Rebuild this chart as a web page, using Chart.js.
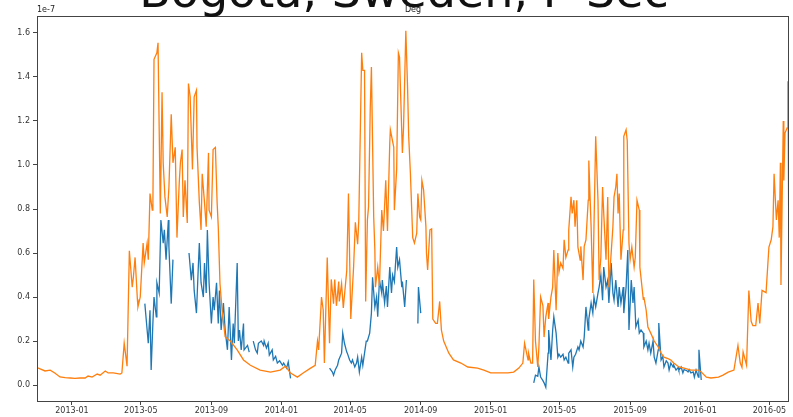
<!DOCTYPE html>
<html>
<head>
<meta charset="utf-8">
<script src="https://cdn.jsdelivr.net/npm/chart.js@4"></script>
<style>
  html, body { margin: 0; padding: 0; background: #fff; }
  canvas { display: block; }
</style>
</head>
<body>
<canvas id="chart" width="793" height="417"></canvas>
<script>
// dates are days counted from 2013-01-01, values in units of 1e-7
const suptitle = 'Bogota, Sweden, P-Sec';
const title = 'Deg';
const offsetLabel = '1e-7';

const tickMonths = ['2013-01', '2013-05', '2013-09', '2014-01', '2014-05', '2014-09',
  '2015-01', '2015-05', '2015-09', '2016-01', '2016-05'];
const yTicks = [0.0, 0.2, 0.4, 0.6, 0.8, 1.0, 1.2, 1.4, 1.6];

const orangeDays = [-61, -47, -38, -30, -21, -12, -3, 5, 14, 23, 28, 35, 44, 49, 58, 63, 72, 84, 87, 91, 96,
  100, 105, 107, 110, 114, 115, 119, 124, 126, 131, 133, 136, 140, 141, 143, 148, 150, 154, 157, 159,
  162, 166, 169, 173, 176, 180, 183, 187, 189, 192, 194, 197, 201, 203, 206, 210, 213, 217, 218, 222,
  225, 227, 231, 234, 238, 239, 243, 246, 250, 253, 255, 258, 262, 267, 276, 288, 299, 311, 328, 346,
  363, 372, 381, 393, 403, 416, 424, 428, 430, 435, 438, 440, 445, 449, 452, 456, 458, 461, 465, 466,
  470, 473, 479, 482, 486, 491, 494, 498, 500, 505, 507, 510, 512, 515, 517, 520, 522, 526, 528, 529,
  533, 536, 540, 543, 547, 550, 554, 555, 561, 562, 566, 569, 571, 576, 578, 582, 585, 587, 590, 594,
  597, 601, 603, 606, 608, 610, 613, 617, 618, 620, 624, 627, 629, 634, 637, 641, 644, 648, 657, 665,
  678, 690, 707, 718, 730, 748, 760, 770, 779, 786, 789, 795, 796, 800, 803, 805, 808, 812, 814, 817,
  821, 823, 826, 830, 831, 835, 838, 840, 844, 847, 849, 852, 856, 858, 861, 865, 866, 870, 872, 875,
  877, 880, 882, 886, 887, 891, 893, 896, 900, 901, 905, 908, 910, 913, 917, 919, 922, 925, 927, 931,
  934, 936, 940, 943, 945, 948, 950, 952, 954, 957, 961, 962, 966, 968, 971, 973, 976, 980, 982, 985,
  989, 990, 996, 997, 1001, 1004, 1009, 1015, 1022, 1027, 1032, 1039, 1044, 1049, 1058, 1067, 1079,
  1092, 1097, 1106, 1114, 1127, 1135, 1144, 1154, 1161, 1165, 1168, 1170, 1176, 1180, 1184, 1187, 1192,
  1196, 1199, 1203, 1210, 1215, 1219, 1222, 1224, 1228, 1231, 1233, 1235, 1236, 1240, 1241, 1243, 1247,
  1248, 1250];
const orangeVals = [0.079, 0.064, 0.068, 0.055, 0.037, 0.034, 0.032, 0.030, 0.032, 0.032, 0.041, 0.036,
  0.050, 0.045, 0.064, 0.055, 0.055, 0.050, 0.055, 0.190, 0.086,
  0.610, 0.445, 0.490, 0.580, 0.390, 0.355, 0.400, 0.645, 0.555, 0.645, 0.570, 0.870, 0.795, 0.800,
  1.480, 1.510, 1.555, 0.780, 1.330, 1.010,
  0.855, 0.764, 0.900, 1.230, 1.010, 1.080, 0.670, 0.920, 1.010, 1.070, 0.764, 0.930, 0.736, 1.370,
  1.310, 0.980, 1.310, 1.340, 1.080, 0.830,
  0.705, 0.960, 0.830, 0.720, 1.055, 0.795, 0.764, 1.070, 1.080, 0.830, 0.720, 0.460, 0.330, 0.220,
  0.200, 0.160, 0.114, 0.090, 0.068, 0.059,
  0.068, 0.086, 0.055, 0.036, 0.055, 0.077, 0.090, 0.200, 0.160, 0.400, 0.340, 0.100, 0.580, 0.190,
  0.480, 0.370, 0.480, 0.360, 0.470, 0.380,
  0.460, 0.350, 0.520, 0.870, 0.300, 0.540, 0.740, 0.640, 0.750, 1.510, 1.430, 1.430, 0.380, 0.750,
  0.810, 1.260, 1.445, 0.764, 0.614, 0.445,
  0.536, 0.450, 0.795, 0.700, 0.930, 0.700, 1.100, 1.160, 1.080, 0.795, 0.980, 1.510, 1.490, 1.055,
  1.170, 1.610, 1.355, 1.130, 0.960, 0.670,
  0.645, 0.690, 0.870, 0.764, 0.750, 0.930, 0.886, 0.720, 0.600, 0.523, 0.705, 0.710, 0.300, 0.280,
  0.280, 0.380, 0.250, 0.200, 0.145, 0.114,
  0.100, 0.082, 0.077, 0.068, 0.055, 0.055, 0.055, 0.059, 0.077, 0.100, 0.190, 0.114, 0.145, 0.100,
  0.100, 0.480, 0.200, 0.082, 0.173, 0.400,
  0.360, 0.218, 0.310, 0.373, 0.300, 0.400, 0.445, 0.614, 0.340, 0.600, 0.514, 0.555, 0.530, 0.660,
  0.580, 0.614, 0.705, 0.855, 0.780, 0.840,
  0.720, 0.840, 0.627, 0.568, 0.630, 0.477, 0.630, 0.660, 0.840, 1.020, 0.720, 0.418, 0.720, 1.130,
  0.840, 0.477, 0.580, 0.900, 0.782, 0.570,
  0.855, 0.445, 0.600, 0.720, 0.855, 0.900, 0.960, 0.780, 0.870, 0.570, 0.705, 1.130, 1.160, 1.110,
  0.645, 0.570, 0.627, 0.536, 0.580, 0.840,
  0.795, 0.536, 0.390, 0.400, 0.340, 0.264, 0.236, 0.200, 0.173, 0.145, 0.127, 0.120, 0.114, 0.100,
  0.082, 0.077, 0.068,
  0.068, 0.059, 0.036, 0.032, 0.036, 0.045, 0.059, 0.068, 0.180, 0.100, 0.080, 0.150, 0.090, 0.430,
  0.290, 0.270, 0.270,
  0.373, 0.280, 0.430, 0.420, 0.627, 0.660, 0.720, 0.960, 0.750, 0.840, 0.670, 1.010, 0.455, 1.200,
  0.930, 1.145, 1.170,
  1.380, 0.536];

// null marks a break in the blue record
const blueDays = [127, 131, 133, 136, 138, 141, 143, 147, 148, 152, 155, 159, 161, 164, 168, 169, 173, 176,
  190,
  204, 208, 211, 213, 217, 220, 222, 225, 229, 231, 234, 236, 239, 243, 246, 248, 252, 255, 257, 260,
  264, 267, 271, 274, 278, 281, 283, 288, 290, 292, 295, 299, 300, 306, 309,
  312,
  316, 320, 323, 325, 330, 334, 335, 339, 342, 344, 349, 351, 355, 358, 362, 367, 369, 374, 377, 381,
  415,
  449, 454, 456, 459, 463, 465, 470, 472, 475, 479, 480, 484, 487, 489, 493, 496, 498, 501, 505, 507,
  510, 513, 515, 519, 522, 524, 528, 531, 533, 536, 540, 541, 545, 548, 550, 554, 557, 559, 562, 566,
  568, 571, 575, 576, 580, 583,
  593,
  603, 604, 608,
  700,
  805, 808, 812, 814, 817, 821, 823, 826, 830, 831, 835, 838, 840, 844, 847, 849, 852, 856, 858, 861,
  865, 866, 870, 873, 875, 878, 882, 884, 887, 891, 893, 896, 900, 901, 905, 908, 910, 913, 917, 919,
  922, 925, 927, 931, 934, 936, 940, 943, 945, 948, 952, 954, 957, 961, 962, 966, 969, 971, 975, 978,
  980, 983, 987, 989, 992, 996, 997, 1001, 1004, 1006, 1009, 1013, 1015, 1018, 1022, 1023, 1027, 1030,
  1032, 1036, 1039, 1041, 1044, 1048, 1049, 1053, 1057, 1058, 1062, 1065, 1067, 1072, 1074, 1076, 1079,
  1083, 1085, 1088, 1092, 1093, 1097];
const blueVals = [0.370, 0.250, 0.190, 0.340, 0.068, 0.280, 0.400, 0.310, 0.465, 0.418, 0.750, 0.645,
  0.705, 0.570, 0.750, 0.627, 0.370, 0.570,
  null,
  0.600, 0.477, 0.555, 0.430, 0.327, 0.523, 0.645, 0.465, 0.400, 0.555, 0.418, 0.705, 0.465, 0.280,
  0.400, 0.340, 0.465, 0.280, 0.430, 0.250,
  0.373, 0.250, 0.160, 0.355, 0.114, 0.280, 0.190, 0.555, 0.200, 0.250, 0.160, 0.280, 0.160, 0.180,
  0.150,
  null,
  0.200, 0.160, 0.145, 0.190, 0.200, 0.180, 0.200, 0.168, 0.190, 0.136, 0.160, 0.114, 0.130, 0.100,
  0.110, 0.090, 0.100, 0.077, 0.105, 0.030,
  null,
  0.077, 0.059, 0.045, 0.070, 0.090, 0.114, 0.145, 0.236, 0.190, 0.150, 0.145, 0.114, 0.100, 0.114,
  0.082, 0.100, 0.127, 0.059, 0.127, 0.090,
  0.145, 0.200, 0.200, 0.236, 0.327, 0.490, 0.355, 0.400, 0.310, 0.477, 0.418, 0.477, 0.373, 0.450,
  0.355, 0.536, 0.418, 0.500, 0.470, 0.627,
  0.536, 0.570, 0.445, 0.470, 0.355, 0.477,
  null,
  0.280, 0.445, 0.327,
  null,
  0.010, 0.045, 0.040, 0.082, 0.036, 0.020, 0.010, -0.010, 0.145, 0.250, 0.114, 0.250, 0.310, 0.236,
  0.127, 0.140, 0.127, 0.140, 0.114, 0.127,
  0.100, 0.145, 0.160, 0.082, 0.127, 0.140, 0.173, 0.160, 0.200, 0.173, 0.218, 0.355, 0.250, 0.300,
  0.373, 0.327, 0.400, 0.355, 0.418, 0.445,
  0.500, 0.386, 0.536, 0.445, 0.477, 0.373, 0.555, 0.418, 0.386, 0.477, 0.355, 0.445, 0.373, 0.445,
  0.327, 0.445, 0.614, 0.250, 0.477, 0.373,
  0.445, 0.264, 0.295, 0.236, 0.250, 0.236, 0.173, 0.200, 0.160, 0.190, 0.145, 0.200, 0.127, 0.100,
  0.160, 0.282, 0.114, 0.130,
  0.082, 0.110, 0.100, 0.068, 0.100, 0.082, 0.090, 0.068, 0.080, 0.068, 0.082, 0.055, 0.070, 0.065,
  0.060, 0.070, 0.055,
  0.060, 0.036, 0.068, 0.036, 0.160, 0.023];

const dayOf = (ym) => {
  const [y, m] = ym.split('-').map(Number);
  return (Date.UTC(y, m - 1, 1) - Date.UTC(2013, 0, 1)) / 86400000;
};
const tickDays = tickMonths.map(dayOf);

const toPoints = (days, vals) => days.map((d, i) => ({ x: d, y: vals[i] }));

Chart.defaults.font.family = '"DejaVu Sans", sans-serif';
Chart.defaults.font.size = 8;
Chart.defaults.color = '#333';

// frame round the plot plus the texts at the top
const decorations = {
  id: 'decorations',
  afterDraw(chart) {
    const { ctx, chartArea: a } = chart;
    ctx.save();
    ctx.strokeStyle = '#444';
    ctx.lineWidth = 1;
    ctx.strokeRect(a.left + 0.5, a.top + 0.5, a.right - a.left - 1, a.bottom - a.top - 1);
    ctx.fillStyle = '#111';
    ctx.textBaseline = 'alphabetic';
    ctx.textAlign = 'center';
    ctx.font = '46px "DejaVu Sans", sans-serif';
    ctx.fillText(suptitle, 404, 7);
    ctx.fillStyle = '#222';
    ctx.font = '8px "DejaVu Sans", sans-serif';
    ctx.fillText(title, (a.left + a.right) / 2, 12);
    ctx.textAlign = 'left';
    ctx.fillText(offsetLabel, a.left, 12);
    ctx.restore();
  }
};

new Chart(document.getElementById('chart'), {
  type: 'line',
  data: {
    datasets: [
      {
        label: 'orange',
        data: toPoints(orangeDays, orangeVals),
        borderColor: '#ff7f0e',
        borderWidth: 1.3,
        pointRadius: 0,
        tension: 0
      },
      {
        label: 'blue',
        data: toPoints(blueDays, blueVals),
        borderColor: '#1f77b4',
        borderWidth: 1.3,
        pointRadius: 0,
        tension: 0,
        spanGaps: false
      }
    ]
  },
  options: {
    responsive: false,
    animation: false,
    layout: { padding: { top: 16, right: 4, left: 0, bottom: 0 } },
    plugins: {
      legend: { display: false },
      tooltip: { enabled: false }
    },
    scales: {
      x: {
        type: 'linear',
        min: -61,
        max: 1250,
        afterFit: (s) => { s.height = 15; },
        afterBuildTicks: (s) => { s.ticks = tickDays.map(v => ({ value: v })); },
        grid: { drawOnChartArea: false, drawTicks: true, tickLength: 3, color: '#444' },
        border: { display: false },
        ticks: {
          padding: 1,
          maxRotation: 0,
          autoSkip: false,
          callback: (v) => tickMonths[tickDays.indexOf(v)]
        }
      },
      y: {
        min: -0.077,
        max: 1.677,
        afterFit: (s) => { s.width = 37; },
        afterBuildTicks: (s) => { s.ticks = yTicks.map(v => ({ value: v })); },
        grid: { drawOnChartArea: false, drawTicks: true, tickLength: 4, color: '#444' },
        border: { display: false },
        ticks: {
          padding: 3,
          callback: (v) => v.toFixed(1)
        }
      }
    }
  },
  plugins: [decorations]
});
</script>
</body>
</html>
